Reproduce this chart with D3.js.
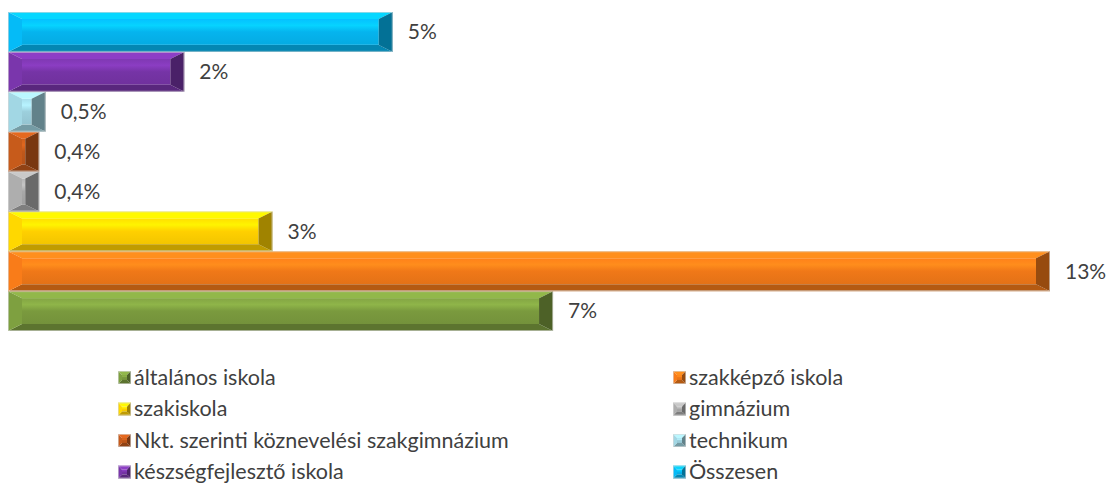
<!DOCTYPE html>
<html>
<head>
<meta charset="utf-8">
<script src="https://cdn.jsdelivr.net/npm/d3@7"></script>
<style>
  body { margin: 0; background: #fff; }
  svg text { font-family: Lato, "Open Sans", sans-serif; fill: #404040; }
</style>
</head>
<body>
<div id="chart"></div>
<script>
// categories in series order (first one is drawn at the bottom)
var categories = ["általános iskola", "szakképző iskola", "szakiskola", "gimnázium",
  "Nkt. szerinti köznevelési szakgimnázium", "technikum", "készségfejlesztő iskola", "Összesen"];
var values = [6.8, 13.0, 3.3, 0.39, 0.39, 0.47, 2.2, 4.8];
var labels = ["7%", "13%", "3%", "0,4%", "0,4%", "0,5%", "2%", "5%"];

var colors = ["#7a9a3e", "#f07818", "#ffd000", "#a8a8a8", "#c0581a", "#9ccfdc", "#7634a6", "#05b4ee"];

var width = 1108, height = 485;

var svg = d3.select("#chart").append("svg")
    .attr("width", width)
    .attr("height", height);

var xScale = d3.scaleLinear()
    .domain([0, 13])
    .range([8, 1050]);

var yScale = d3.scaleBand()
    .domain(categories)
    .range([331, 12])
    .padding(0);

var defs = svg.append("defs");
colors.forEach(function(c, i) {
  var base = d3.color(c);
  var g = defs.append("linearGradient")
      .attr("id", "face" + i)
      .attr("x1", 0).attr("y1", 0).attr("x2", 0).attr("y2", 1);
  g.append("stop").attr("offset", "0%").attr("stop-color", base.brighter(0.2));
  g.append("stop").attr("offset", "25%").attr("stop-color", base.brighter(0.45));
  g.append("stop").attr("offset", "50%").attr("stop-color", base);
  g.append("stop").attr("offset", "100%").attr("stop-color", base.darker(0.15));
});

// draws a bevelled box like the excel 3d bars
function bevel(sel, x0, y0, x1, y1, bx, by, i) {
  var w = x1 - x0, h = y1 - y0;
  bx = Math.min(bx, w / 2);
  by = Math.min(by, h / 2);
  var base = d3.color(colors[i]);
  var pts = function(a) { return a.map(function(p) { return p.join(","); }).join(" "); };
  sel.append("rect")
      .attr("x", x0 + bx).attr("y", y0 + by)
      .attr("width", Math.max(0, w - 2 * bx)).attr("height", Math.max(0, h - 2 * by))
      .attr("fill", "url(#face" + i + ")");
  sel.append("polygon")
      .attr("points", pts([[x0, y0], [x1, y0], [x1 - bx, y0 + by], [x0 + bx, y0 + by]]))
      .attr("fill", base.brighter(0.5));
  sel.append("polygon")
      .attr("points", pts([[x0, y1], [x1, y1], [x1 - bx, y1 - by], [x0 + bx, y1 - by]]))
      .attr("fill", base.darker(0.8));
  sel.append("polygon")
      .attr("points", pts([[x0, y0], [x0 + bx, y0 + by], [x0 + bx, y1 - by], [x0, y1]]))
      .attr("fill", base.brighter(0.1));
  sel.append("polygon")
      .attr("points", pts([[x1, y0], [x1 - bx, y0 + by], [x1 - bx, y1 - by], [x1, y1]]))
      .attr("fill", base.darker(1.3));
  sel.append("rect")
      .attr("x", x0 + 0.5).attr("y", y0 + 0.5)
      .attr("width", w - 1).attr("height", h - 1)
      .attr("fill", "none")
      .attr("stroke", "#d9d9d9")
      .attr("stroke-width", 1)
      .attr("stroke-opacity", 0.6);
}

var bars = svg.selectAll(".bar")
    .data(categories)
  .enter().append("g")
    .attr("class", "bar");

bars.each(function(d, i) {
  var y0 = yScale(d), y1 = y0 + yScale.bandwidth();
  bevel(d3.select(this), xScale(0), y0, xScale(values[i]), y1, 14, 7, i);
});

svg.selectAll(".label")
    .data(categories)
  .enter().append("text")
    .attr("class", "label")
    .attr("x", function(d, i) { return xScale(values[i]) + 15; })
    .attr("y", function(d) { return yScale(d) + yScale.bandwidth() / 2; })
    .attr("dy", "0.35em")
    .style("font-size", "21px")
    .text(function(d, i) { return labels[i]; });

// legend, two columns, filled row by row
var legX = [118, 673], legY0 = 377, legStep = 31.5;
var leg = svg.selectAll(".legend")
    .data(categories)
  .enter().append("g")
    .attr("class", "legend")
    .attr("transform", function(d, i) {
      return "translate(" + legX[i % 2] + "," + (legY0 + Math.floor(i / 2) * legStep) + ")";
    });

leg.each(function(d, i) {
  bevel(d3.select(this), 0, -6, 13, 7, 4, 4, i);
});

leg.append("text")
    .attr("x", 16)
    .attr("y", 0)
    .attr("dy", "0.35em")
    .style("font-size", "21.5px")
    .text(function(d) { return d; });
</script>
</body>
</html>
